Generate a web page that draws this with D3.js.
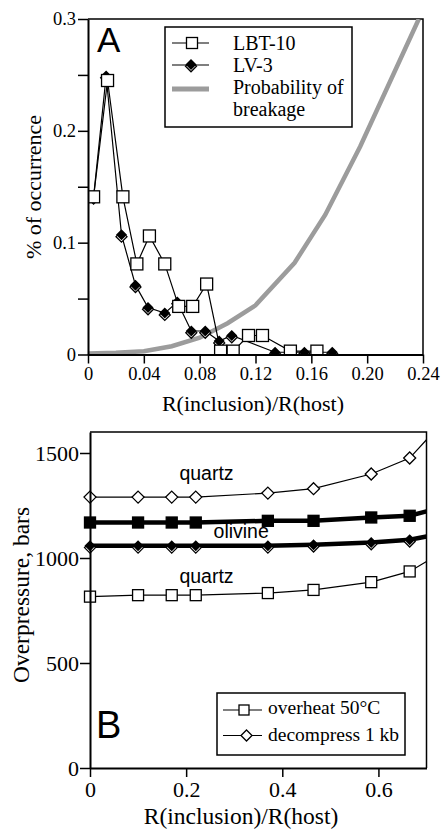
<!DOCTYPE html>
<html><head><meta charset="utf-8">
<script src="https://cdn.jsdelivr.net/npm/d3@7"></script>
<style>body{margin:0;background:#fff}svg{display:block}</style>
</head><body>
<script>
// ---------- Panel A data ----------
const lbtX = [0.004,0.014,0.025,0.035,0.044,0.055,0.065,0.075,0.085,0.095,0.104,0.115,0.125,0.145,0.164];
const lbtY = [0.141,0.245,0.141,0.081,0.106,0.081,0.043,0.043,0.063,0.003,0.003,0.017,0.017,0.003,0.003];
const lvX  = [0.004,0.013,0.024,0.034,0.043,0.055,0.064,0.074,0.084,0.094,0.103,0.134,0.155,0.175];
const lvY  = [0.141,0.249,0.107,0.062,0.042,0.037,0.047,0.021,0.021,0.012,0.017,0.002,0.002,0.002];
const probX = [0,0.02,0.04,0.06,0.08,0.10,0.12,0.148,0.17,0.195,0.237];
const probY = [0.001,0.0015,0.003,0.0074,0.015,0.028,0.044,0.082,0.125,0.186,0.3];
const aXTicks = [0,0.04,0.08,0.12,0.16,0.20,0.24];
const aXLabels = ["0","0.04","0.08","0.12","0.16","0.20","0.24"];
const aYTicks = [0,0.05,0.1,0.15,0.2,0.25,0.3];
const aYLabels = ["0","","0.1","","0.2","","0.3"];
const aLegend = ["LBT-10","LV-3","Probability of","breakage"];

// ---------- Panel B data ----------
const rB = [0,0.10,0.17,0.22,0.37,0.465,0.585,0.665,0.70];
const quartzDecompress = [1290,1290,1290,1290,1309,1330,1400,1476,1563];
const olivineOverheat  = [1169,1169,1169,1169,1177,1177,1193,1201,1222];
const olivineDecompress= [1058,1058,1058,1058,1058,1063,1074,1087,1102];
const quartzOverheat   = [816,823,823,823,833,848,885,936,983];
const bXTicks = [0,0.2,0.4,0.6];
const bXLabels = ["0","0.2","0.4","0.6"];
const bYTicks = [0,500,1000,1500];
const bYLabels = ["0","500","1000","1500"];
const bLegend = ["overheat 50°C","decompress 1 kb"];
const bNotes = [{t:"quartz",x:0.186,y:1373},{t:"olivine",x:0.257,y:1095},{t:"quartz",x:0.186,y:880}];

const SERIF = "'Liberation Serif','Times New Roman',serif";
const SANS = "'Liberation Sans',Arial,sans-serif";

const svg = d3.select("body").append("svg").attr("width",448).attr("height",831);

function styleAxis(g, fs){
  g.attr("font-family",null).attr("font-size",null);
  g.select(".domain").attr("stroke","#000").attr("stroke-width",2);
  g.selectAll(".tick line").attr("stroke","#000").attr("stroke-width",1.5);
  g.selectAll(".tick text").style("font-family",SERIF).style("font-size",fs+"px").attr("fill","#000");
}
function sq(g,x,y,s,fill){
  g.append("rect").attr("x",x-s/2).attr("y",y-s/2).attr("width",s).attr("height",s)
   .attr("fill",fill).attr("stroke","#000").attr("stroke-width",1.3);
}
function dia(g,x,y,r,fill){
  g.append("path").attr("d",`M${x},${y-r}L${x+r},${y}L${x},${y+r}L${x-r},${y}Z`)
   .attr("fill",fill).attr("stroke","#000").attr("stroke-width",1.3);
}
function solidDia(g,x,y,r){
  dia(g,x,y+1.8,r,"#fff");
  g.append("path").attr("d",`M${x},${y-r}L${x+r},${y}L${x},${y+r}L${x-r},${y}Z`).attr("fill","#000");
}

// ================= PANEL A =================
const xA = d3.scaleLinear().domain([0,0.24]).range([88,423]);
const yA = d3.scaleLinear().domain([0,0.3]).range([354.5,19]);
const gA = svg.append("g");
svg.append("clipPath").attr("id","clipA").append("rect")
  .attr("x",xA(0)).attr("y",yA(0.3)).attr("width",xA(0.24)-xA(0)).attr("height",yA(0)-yA(0.3));
gA.append("path").attr("d",`M${xA(0)},${yA(0.3)}H${xA(0.24)}V${yA(0)}`).attr("fill","none").attr("stroke","#000").attr("stroke-width",1.5);

const pA = gA.append("g").attr("clip-path","url(#clipA)");
const lineA = (xs,ys)=> d3.line().x((d,i)=>xA(xs[i])).y((d,i)=>yA(ys[i]))(xs);
pA.append("path").attr("d",lineA(probX,probY)).attr("fill","none").attr("stroke","#9c9c9c").attr("stroke-width",4.5);
pA.append("path").attr("d",lineA(lvX,lvY)).attr("fill","none").attr("stroke","#000").attr("stroke-width",1.2);
lvX.forEach((v,i)=>solidDia(pA,xA(v),yA(lvY[i]),5.5));
pA.append("path").attr("d",lineA(lbtX,lbtY)).attr("fill","none").attr("stroke","#000").attr("stroke-width",1.2);
lbtX.forEach((v,i)=>sq(pA,xA(v),yA(lbtY[i]),12,"#fff"));

const axAx = gA.append("g").attr("transform",`translate(0,${yA(0)})`)
  .call(d3.axisBottom(xA).tickValues(aXTicks).tickFormat((d,i)=>aXLabels[i]).tickSizeInner(9).tickSizeOuter(0).tickPadding(3));
styleAxis(axAx,18.5);
const axAy = gA.append("g").attr("transform",`translate(${xA(0)},0)`)
  .call(d3.axisLeft(yA).tickValues(aYTicks).tickFormat((d,i)=>aYLabels[i]).tickSizeInner(10).tickSizeOuter(0).tickPadding(2));
styleAxis(axAy,18.5);

gA.append("text").attr("x",97).attr("y",52).attr("font-family",SANS).attr("font-size",35).text("A");
gA.append("text").attr("x",253).attr("y",411).attr("text-anchor","middle").attr("font-family",SERIF).attr("font-size",22).text("R(inclusion)/R(host)");
gA.append("text").attr("transform","translate(41,187) rotate(-90)").attr("text-anchor","middle").attr("font-family",SERIF).attr("font-size",22).text("% of occurrence");

// legend A
const lgA = gA.append("g");
lgA.append("rect").attr("x",165).attr("y",27).attr("width",187).attr("height",100).attr("fill","#fff").attr("stroke","#000").attr("stroke-width",1.5);
lgA.append("line").attr("x1",172).attr("x2",209).attr("y1",43).attr("y2",43).attr("stroke","#000").attr("stroke-width",1.2);
sq(lgA,192,43,11,"#fff");
lgA.append("line").attr("x1",172).attr("x2",209).attr("y1",65).attr("y2",65).attr("stroke","#000").attr("stroke-width",1.2);
solidDia(lgA,191,64.5,5.5);
lgA.append("line").attr("x1",172).attr("x2",209).attr("y1",89).attr("y2",89).attr("stroke","#9c9c9c").attr("stroke-width",5);
const lgAy = [50,71.5,94,115.5];
aLegend.forEach((t,i)=>lgA.append("text").attr("x",233).attr("y",lgAy[i]).attr("font-family",SERIF).attr("font-size",20).text(t));

// ================= PANEL B =================
const xB = d3.scaleLinear().domain([0,0.7]).range([90,426.5]);
const yB = d3.scaleLinear().domain([0,1600]).range([768,432]);
const gB = svg.append("g");
svg.append("clipPath").attr("id","clipB").append("rect")
  .attr("x",xB(0)-8).attr("y",yB(1600)).attr("width",xB(0.7)-xB(0)+8).attr("height",yB(0)-yB(1600));
gB.append("path").attr("d",`M${xB(0)},${yB(1600)}H${xB(0.7)}V${yB(0)}`).attr("fill","none").attr("stroke","#000").attr("stroke-width",1.5);
const pB = gB.append("g").attr("clip-path","url(#clipB)");
const lineB = ys => d3.line().x((d,i)=>xB(rB[i])).y((d,i)=>yB(ys[i]))(rB);
const nMark = 8;
pB.append("path").attr("d",lineB(quartzDecompress)).attr("fill","none").attr("stroke","#000").attr("stroke-width",1.2);
rB.slice(0,nMark).forEach((v,i)=>dia(pB,xB(v),yB(quartzDecompress[i]),6,"#fff"));
pB.append("path").attr("d",lineB(olivineOverheat)).attr("fill","none").attr("stroke","#000").attr("stroke-width",4.5);
rB.slice(0,nMark).forEach((v,i)=>sq(pB,xB(v),yB(olivineOverheat[i]),11,"#000"));
pB.append("path").attr("d",lineB(olivineDecompress)).attr("fill","none").attr("stroke","#000").attr("stroke-width",4.5);
rB.slice(0,nMark).forEach((v,i)=>solidDia(pB,xB(v),yB(olivineDecompress[i]),5.5));
pB.append("path").attr("d",lineB(quartzOverheat)).attr("fill","none").attr("stroke","#000").attr("stroke-width",1.2);
rB.slice(0,nMark).forEach((v,i)=>sq(pB,xB(v),yB(quartzOverheat[i]),11,"#fff"));

bNotes.forEach(n=>gB.append("text").attr("x",xB(n.x)).attr("y",yB(n.y)).attr("font-family",SANS).attr("font-size",19.5).text(n.t));

const axBx = gB.append("g").attr("transform",`translate(0,${yB(0)})`)
  .call(d3.axisBottom(xB).tickValues(bXTicks).tickFormat((d,i)=>bXLabels[i]).tickSizeInner(9).tickSizeOuter(0).tickPadding(4));
styleAxis(axBx,22);
const axBy = gB.append("g").attr("transform",`translate(${xB(0)},0)`)
  .call(d3.axisLeft(yB).tickValues(bYTicks).tickFormat((d,i)=>bYLabels[i]).tickSizeInner(10).tickSizeOuter(0).tickPadding(1));
styleAxis(axBy,22);

gB.append("text").attr("x",96).attr("y",738).attr("font-family",SANS).attr("font-size",38).text("B");
gB.append("text").attr("x",241).attr("y",824).attr("text-anchor","middle").attr("font-family",SERIF).attr("font-size",23.5).text("R(inclusion)/R(host)");
gB.append("text").attr("transform","translate(29,595) rotate(-90)").attr("text-anchor","middle").attr("font-family",SERIF).attr("font-size",23.5).text("Overpressure, bars");

const lgB = gB.append("g");
lgB.append("rect").attr("x",217).attr("y",693).attr("width",188).attr("height",62).attr("fill","#fff").attr("stroke","#000").attr("stroke-width",1.5);
lgB.append("line").attr("x1",223).attr("x2",262).attr("y1",710).attr("y2",710).attr("stroke","#000").attr("stroke-width",1.2);
sq(lgB,244,710,10,"#fff");
lgB.append("line").attr("x1",223).attr("x2",262).attr("y1",735.5).attr("y2",735.5).attr("stroke","#000").attr("stroke-width",1.2);
dia(lgB,246.5,735.5,5.5,"#fff");
const lgBy = [714,740.5];
bLegend.forEach((t,i)=>lgB.append("text").attr("x",268).attr("y",lgBy[i]).attr("font-family",SERIF).attr("font-size",19.5).text(t));
</script>
</body></html>
